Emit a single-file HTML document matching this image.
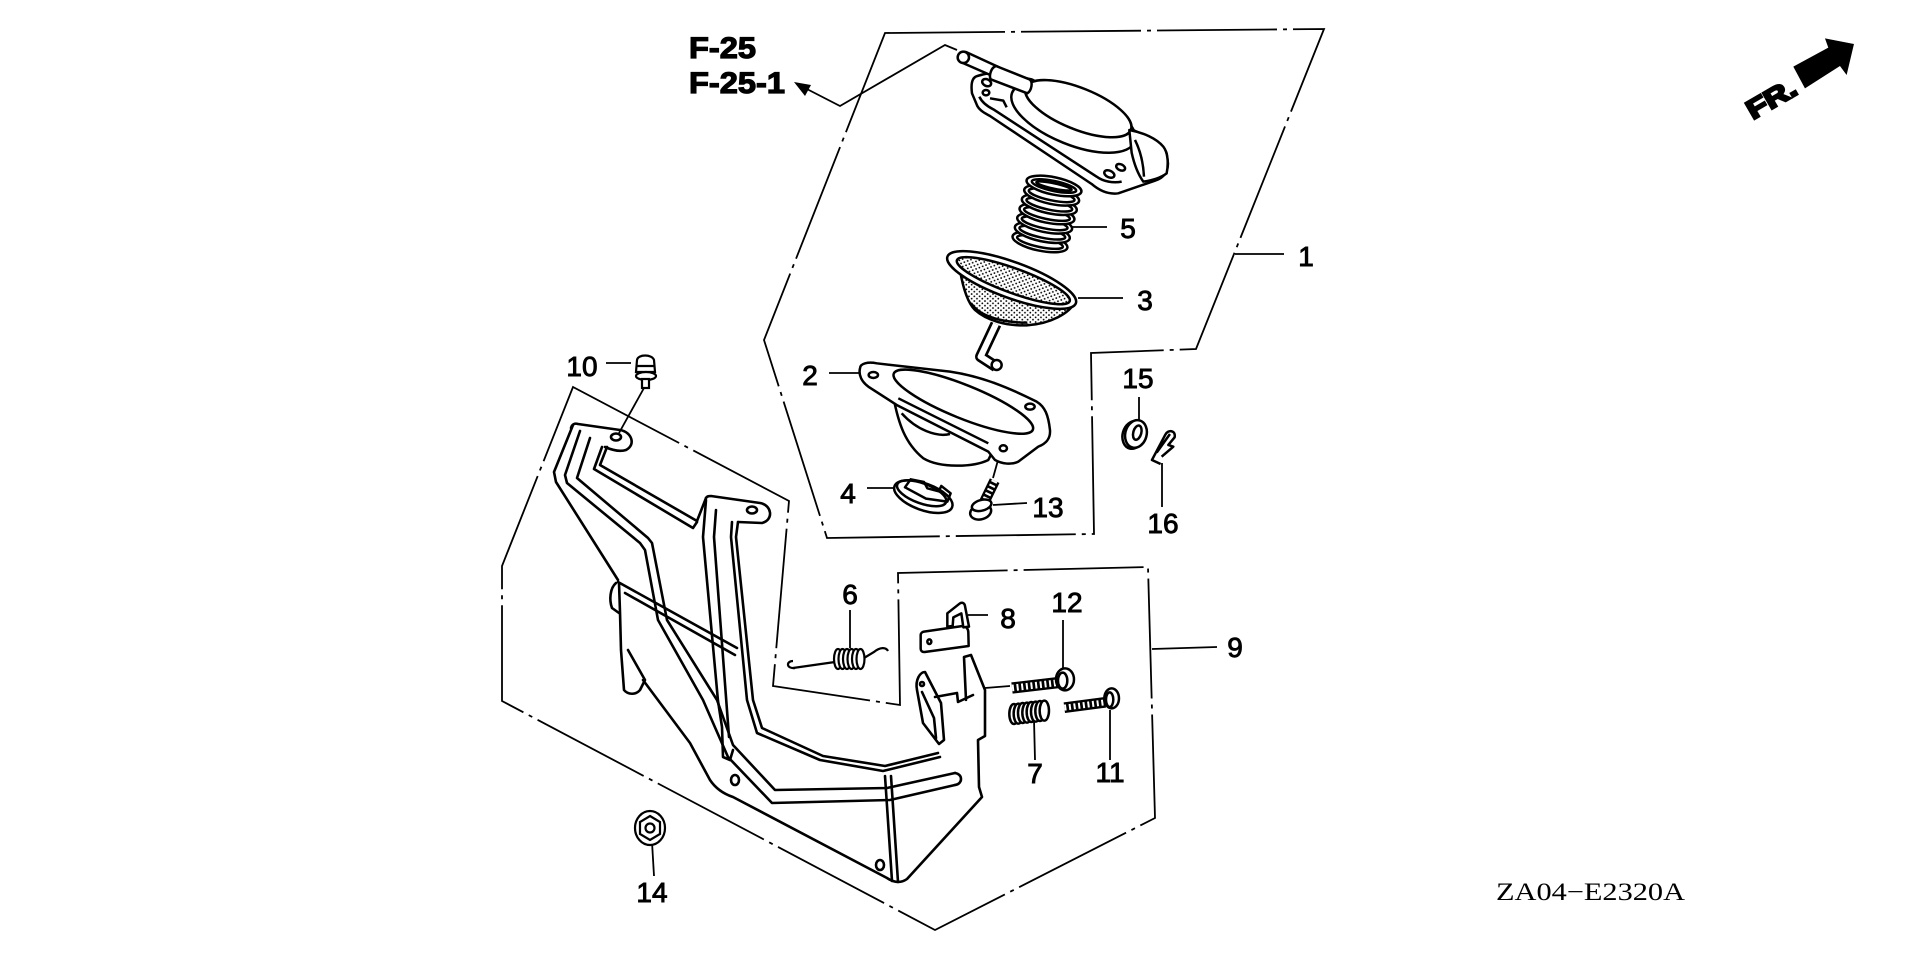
<!DOCTYPE html>
<html><head><meta charset="utf-8">
<style>
html,body{margin:0;padding:0;background:#fff;}
svg{display:block;}
</style></head><body>
<svg width="1920" height="959" viewBox="0 0 1920 959" xmlns="http://www.w3.org/2000/svg">
<defs>
<pattern id="dots" patternUnits="userSpaceOnUse" width="16" height="14">
<circle cx="3" cy="3" r="2.6" fill="#000"/><circle cx="11" cy="10" r="2.6" fill="#000"/>
</pattern>
</defs>
<rect width="1920" height="959" fill="#fff"/>

<!-- phantom boxes -->
<g fill="none" stroke="#000" stroke-width="1.8" stroke-dasharray="120 6 4 6">
<polygon points="885,33 1324,29 1196,349 1091,353 1094,534 827,538 764,340"/>
<polygon points="573,387 789,501 773,686 900,705 898,573 1148,567 1155,818 935,930 502,701 502,566"/>
</g>

<!-- leaders -->
<g fill="none" stroke="#000" stroke-width="1.8">
<polyline points="803,87 840,106 945,45 957,50"/>
<line x1="1235" y1="254" x2="1284" y2="254"/>
<line x1="829" y1="373" x2="860" y2="373"/>
<line x1="1078" y1="298" x2="1123" y2="298"/>
<line x1="867" y1="488" x2="893" y2="488"/>
<line x1="1070" y1="227" x2="1107" y2="227"/>
<line x1="850" y1="610" x2="850" y2="648"/>
<line x1="1034" y1="720" x2="1035" y2="760"/>
<line x1="968" y1="615" x2="988" y2="615"/>
<line x1="1152" y1="649" x2="1217" y2="647"/>
<line x1="606" y1="363" x2="631" y2="363"/>
<line x1="1110" y1="710" x2="1110" y2="760"/>
<line x1="1063" y1="620" x2="1063" y2="672"/>
<line x1="993" y1="505" x2="1027" y2="503"/>
<line x1="652" y1="842" x2="654" y2="876"/>
<line x1="1139" y1="397" x2="1139" y2="421"/>
<line x1="1162" y1="463" x2="1162" y2="507"/>
<line x1="644" y1="388" x2="619" y2="433"/>
<line x1="1000" y1="453" x2="993" y2="478"/>
<line x1="985" y1="688" x2="1010" y2="686"/>
</g>
<polygon points="794,82 811,85 805,96" fill="#000"/>

<!-- cap + spring 5 -->
<g transform="translate(940,30) scale(0.3333)" stroke="#000" stroke-width="7.5" fill="#fff" stroke-linejoin="round">
 <g>
  <ellipse cx="300" cy="636" rx="84" ry="26" transform="rotate(12 300 636)"/>
  <ellipse cx="300" cy="636" rx="70" ry="15" transform="rotate(12 300 636)" fill="none"/>
  <ellipse cx="307" cy="608" rx="84" ry="26" transform="rotate(12 307 608)"/>
  <ellipse cx="307" cy="608" rx="70" ry="15" transform="rotate(12 307 608)" fill="none"/>
  <ellipse cx="314" cy="580" rx="84" ry="26" transform="rotate(12 314 580)"/>
  <ellipse cx="314" cy="580" rx="70" ry="15" transform="rotate(12 314 580)" fill="none"/>
  <ellipse cx="321" cy="552" rx="84" ry="26" transform="rotate(12 321 552)"/>
  <ellipse cx="321" cy="552" rx="70" ry="15" transform="rotate(12 321 552)" fill="none"/>
  <ellipse cx="328" cy="524" rx="84" ry="26" transform="rotate(12 328 524)"/>
  <ellipse cx="328" cy="524" rx="70" ry="15" transform="rotate(12 328 524)" fill="none"/>
  <ellipse cx="335" cy="496" rx="84" ry="26" transform="rotate(12 335 496)"/>
  <ellipse cx="335" cy="496" rx="70" ry="15" transform="rotate(12 335 496)" fill="none"/>
  <ellipse cx="342" cy="468" rx="84" ry="26" transform="rotate(12 342 468)"/>
  <ellipse cx="342" cy="468" rx="68" ry="15" transform="rotate(12 342 468)" fill="none"/>
  <ellipse cx="342" cy="468" rx="54" ry="8" transform="rotate(12 342 468)" fill="none"/>
 </g>
 <path d="M112,138 C96,142 92,160 96,190 L112,228 C120,242 135,250 150,258 L455,462 C478,482 505,494 535,490 L645,452 C670,444 684,428 684,400 L680,370 C672,350 655,335 630,325 L275,148 L170,128 C150,128 125,134 112,138 Z"/>
 <path d="M118,200 C125,215 140,228 160,238 L470,440 C490,455 520,460 545,455" fill="none"/>
 <path d="M150,205 L190,212 L200,232" fill="none"/>
 <ellipse cx="140" cy="158" rx="14" ry="10" transform="rotate(25 140 158)"/>
 <ellipse cx="138" cy="188" rx="10" ry="8"/>
 <ellipse cx="508" cy="432" rx="16" ry="10" transform="rotate(25 508 432)"/>
 <ellipse cx="542" cy="412" rx="14" ry="9" transform="rotate(25 542 412)"/>
 <ellipse cx="400" cy="262" rx="198" ry="82" transform="rotate(22 400 262)"/>
 <ellipse cx="415" cy="236" rx="170" ry="62" transform="rotate(22 415 236)"/>
 <path d="M568,300 C610,308 650,325 670,350 C684,368 686,400 680,430 C660,445 630,452 610,455 C592,430 582,400 575,368 Z"/>
 <path d="M585,330 C600,360 610,400 612,440" fill="none"/>
 <path d="M78,66 L178,112 L162,140 L66,98 Z"/>
 <path d="M168,108 L268,148 C280,155 275,182 262,190 L152,148 C146,136 154,112 168,108 Z"/>
 <ellipse cx="70" cy="82" rx="17" ry="17"/>
</g>

<!-- strainer 3, flange 2, 4, 13, 15, 16 -->
<g transform="translate(840,230) scale(0.3333)" stroke="#000" stroke-width="7.5" fill="#fff" stroke-linejoin="round">
 <path d="M468,282 L422,380 L468,410" fill="none" stroke-width="34"/>
 <path d="M468,282 L422,380 L468,410" fill="none" stroke="#fff" stroke-width="18"/>
 <circle cx="470" cy="405" r="15"/>
 <path d="M360,120 C370,180 385,220 405,240 C440,272 500,288 560,286 C630,282 690,250 705,215 Z" fill="url(#dots)"/>
 <path d="M395,222 C420,260 490,278 562,278" fill="none"/>
 <ellipse cx="515" cy="150" rx="205" ry="54" transform="rotate(20 515 150)"/>
 <ellipse cx="520" cy="152" rx="180" ry="37" transform="rotate(20 520 152)" fill="url(#dots)"/>

 <path d="M160,500 C175,580 195,640 250,685 C300,715 400,712 445,690 L460,660"/>
 <path d="M60,415 C60,400 85,395 110,400 L330,425 C430,440 510,475 590,515 C615,530 625,555 630,600 C632,625 620,640 595,650 L535,695 C515,705 485,702 465,690 L445,665 L170,525 L85,470 C65,455 55,435 60,415 Z"/>
 <ellipse cx="370" cy="515" rx="225" ry="50" transform="rotate(22 370 515)"/>
 <path d="M175,505 L445,640" fill="none"/>
 <path d="M185,550 C230,600 290,622 330,612" fill="none"/>
 <ellipse cx="100" cy="435" rx="14" ry="9"/>
 <ellipse cx="570" cy="530" rx="14" ry="9"/>
 <ellipse cx="490" cy="655" rx="11" ry="9"/>

 <ellipse cx="250" cy="800" rx="92" ry="40" transform="rotate(20 250 800)"/>
 <ellipse cx="245" cy="790" rx="78" ry="30" transform="rotate(20 245 790)" fill="none"/>
 <path d="M195,772 L212,748 L252,756 L262,775 L296,784 L304,768 L332,790 L322,815 L258,806 Z" fill="none"/>

 <line x1="464" y1="752" x2="432" y2="818" stroke-width="32"/>
 <line x1="464" y1="752" x2="432" y2="818" stroke="#fff" stroke-width="18" stroke-dasharray="6 8"/>
 <ellipse cx="422" cy="846" rx="32" ry="22" transform="rotate(-15 422 846)"/>
 <ellipse cx="425" cy="826" rx="30" ry="16" transform="rotate(-15 425 826)"/>

 <ellipse cx="880" cy="615" rx="32" ry="42" transform="rotate(15 880 615)"/>
 <ellipse cx="888" cy="612" rx="32" ry="42" transform="rotate(15 888 612)"/>
 <ellipse cx="892" cy="608" rx="12" ry="22" transform="rotate(15 892 608)"/>

 <path d="M962,702 L936,690 L976,614 C984,598 1008,600 1004,622 L985,645 L1000,650 L965,680 M950,668 L990,612" fill="none"/>
</g>

<!-- bracket plate -->
<g fill="none" stroke="#000" stroke-width="2.6" stroke-linejoin="round" stroke-linecap="round">
 <path d="M618,582 L737,648"/>
 <path d="M625,593 L735,655"/>
 <path d="M616,583 C610,588 609,600 612,608 L619,613"/>
 <path d="M619,583 L620,612 L621,650 L624,690 C628,695 636,695 640,690 L645,680 L628,650"/>
 <path d="M643,680 L690,743 L710,780 C716,789 724,794 733,797 L887,878 C893,882 900,884 907,879 L982,797 L979,787 L978,740 L985,736 L985,690 L971,655 L964,657 L966,700"/>
 <path d="M885,776 L892,881"/>
 <path d="M891,776 L898,882"/>
 <ellipse cx="735" cy="780" rx="4" ry="5"/>
 <ellipse cx="880" cy="865" rx="4" ry="5"/>
 <path d="M917,690 C915,680 920,672 925,672 L941,703 L944,740 L939,744 L923,723 Z" fill="#fff"/>
 <path d="M935,697 L957,693 L958,702 L973,695"/>
 <path d="M922,692 L934,718 L936,738"/>
 <circle cx="922" cy="684" r="2"/>
 <path d="M571,428 C572,424 575,423 578,424 L620,430 C632,432 636,445 626,450 C620,452 612,450 605,447"/>
 <ellipse cx="616" cy="437" rx="5" ry="3.5"/>
 <polyline points="602,447 594,469 693,528 697,522"/>
 <polyline points="607,447 600,465 697,521 706,498"/>
 <path d="M706,498 C707,496 709,496 711,496 L760,503 C772,505 774,520 762,523 L738,522"/>
 <ellipse cx="752" cy="510" rx="5" ry="3.5"/>
 <polyline points="573,425 554,472 556,482 618,580"/>
 <polyline points="580,431 565,475 567,483 640,543 645,550 658,620 703,700 728,757 772,803 890,800 955,785"/>
 <polyline points="590,438 577,478 648,538 652,543 667,620 717,700 733,745 775,790 887,788 955,773"/>
 <path d="M955,773 C963,774 963,784 955,785"/>
 <polyline points="706,500 703,537 718,701 722,727 723,757 730,760 733,750"/>
 <polyline points="716,510 714,537 729,737"/>
 <polyline points="732,522 731,537 747,700 757,733 820,760 883,771 940,757"/>
 <polyline points="738,522 736,537 753,700 762,728 823,756 885,766 938,753"/>
</g>

<!-- bolt 10 -->
<g stroke="#000" stroke-width="2.2" fill="#fff">
 <path d="M637,360 C638,354 652,354 654,360 L655,372 L636,372 Z"/>
 <line x1="637" y1="366" x2="654" y2="366"/>
 <ellipse cx="646" cy="376" rx="10" ry="4"/>
 <rect x="642" y="379" width="7" height="9"/>
</g>
<!-- nut 14 -->
<g stroke="#000" stroke-width="2.2" fill="#fff">
 <ellipse cx="650" cy="828" rx="15" ry="17"/>
 <polygon points="650,816 660,822 660,834 650,840 640,834 640,822"/>
 <circle cx="650" cy="828" r="4.5"/>
</g>
<!-- spring 6 -->
<g stroke="#000" stroke-width="2.2" fill="#fff">
 <path d="M795,668 C786,669 786,661 793,661" fill="none"/>
 <line x1="793" y1="668" x2="835" y2="662"/>
 <ellipse cx="838" cy="659" rx="4" ry="10"/>
 <ellipse cx="842.5" cy="659" rx="4" ry="10"/>
 <ellipse cx="847" cy="659" rx="4" ry="10"/>
 <ellipse cx="851.5" cy="659" rx="4" ry="10"/>
 <ellipse cx="856" cy="659" rx="4" ry="10"/>
 <ellipse cx="860.5" cy="659" rx="4" ry="10"/>
 <path d="M864,658 L874,652 C880,647 886,647 888,651" fill="none"/>
</g>

<!-- parts in box 9 -->
<g transform="translate(900,570) scale(0.3333)" stroke="#000" stroke-width="7.5" fill="#fff" stroke-linejoin="round">
 <path d="M72,185 L188,168 C198,168 205,176 205,188 L206,228 L74,246 C66,247 62,242 62,236 L62,195 C62,190 66,186 72,185 Z"/>
 <path d="M142,130 L180,100 C188,96 194,100 195,108 L207,170 L190,172 L184,130 L160,142 L158,168 L142,170 Z"/>
 <ellipse cx="88" cy="215" rx="6" ry="7"/>
 <line x1="336" y1="354" x2="474" y2="338" stroke-width="34"/>
 <line x1="336" y1="354" x2="474" y2="338" stroke="#fff" stroke-width="20" stroke-dasharray="6 8"/>
 <ellipse cx="495" cy="328" rx="27" ry="33"/>
 <ellipse cx="488" cy="332" rx="14" ry="24"/>
 <line x1="493" y1="413" x2="616" y2="397" stroke-width="32"/>
 <line x1="493" y1="413" x2="616" y2="397" stroke="#fff" stroke-width="18" stroke-dasharray="6 8"/>
 <ellipse cx="635" cy="385" rx="22" ry="30"/>
 <ellipse cx="629" cy="389" rx="11" ry="22"/>
 <ellipse cx="342" cy="432" rx="14" ry="30"/>
 <ellipse cx="355" cy="431" rx="14" ry="30"/>
 <ellipse cx="368" cy="429" rx="14" ry="30"/>
 <ellipse cx="381" cy="428" rx="14" ry="30"/>
 <ellipse cx="394" cy="426" rx="14" ry="30"/>
 <ellipse cx="407" cy="425" rx="14" ry="30"/>
 <ellipse cx="420" cy="423" rx="14" ry="30"/>
 <ellipse cx="433" cy="422" rx="14" ry="30"/>
</g>

<!-- FR arrow -->
<g transform="translate(1480,20) scale(0.3333)">
 <polygon points="940,140 1045,83 1035,55 1122,72 1100,165 1080,138 975,205" fill="#000"/>
 <text x="888" y="260" transform="rotate(-30 888 260)" text-anchor="middle" style="font-family:'Liberation Sans',Arial,sans-serif;font-size:80px;font-weight:bold" fill="#000" stroke="#000" stroke-width="7" textLength="160" lengthAdjust="spacingAndGlyphs">FR.</text>
</g>

<!-- F-25 labels -->
<g style="font-family:'Liberation Sans',Arial,sans-serif;font-size:30px;font-weight:bold" fill="#000" stroke="#000" stroke-width="1.2">
 <text x="689" y="58" textLength="67" lengthAdjust="spacingAndGlyphs">F-25</text>
 <text x="689" y="93" textLength="96" lengthAdjust="spacingAndGlyphs">F-25-1</text>
</g>

<!-- numeric labels -->
<g style="font-family:'Liberation Sans',Arial,sans-serif;font-size:28px" fill="#000" stroke="#000" stroke-width="0.9" text-anchor="middle">
 <text x="1306" y="266">1</text>
 <text x="810" y="385">2</text>
 <text x="1145" y="310">3</text>
 <text x="848" y="503">4</text>
 <text x="1128" y="238">5</text>
 <text x="850" y="604">6</text>
 <text x="1035" y="783">7</text>
 <text x="1008" y="628">8</text>
 <text x="1235" y="657">9</text>
 <text x="582" y="376">10</text>
 <text x="1110" y="782">11</text>
 <text x="1067" y="612">12</text>
 <text x="1048" y="517">13</text>
 <text x="652" y="902">14</text>
 <text x="1138" y="388">15</text>
 <text x="1163" y="533">16</text>
</g>

<text x="1496" y="900" style="font-family:'Liberation Serif','Times New Roman',serif;font-size:25px" fill="#000" textLength="189" lengthAdjust="spacingAndGlyphs">ZA04−E2320A</text>
</svg>
</body></html>
